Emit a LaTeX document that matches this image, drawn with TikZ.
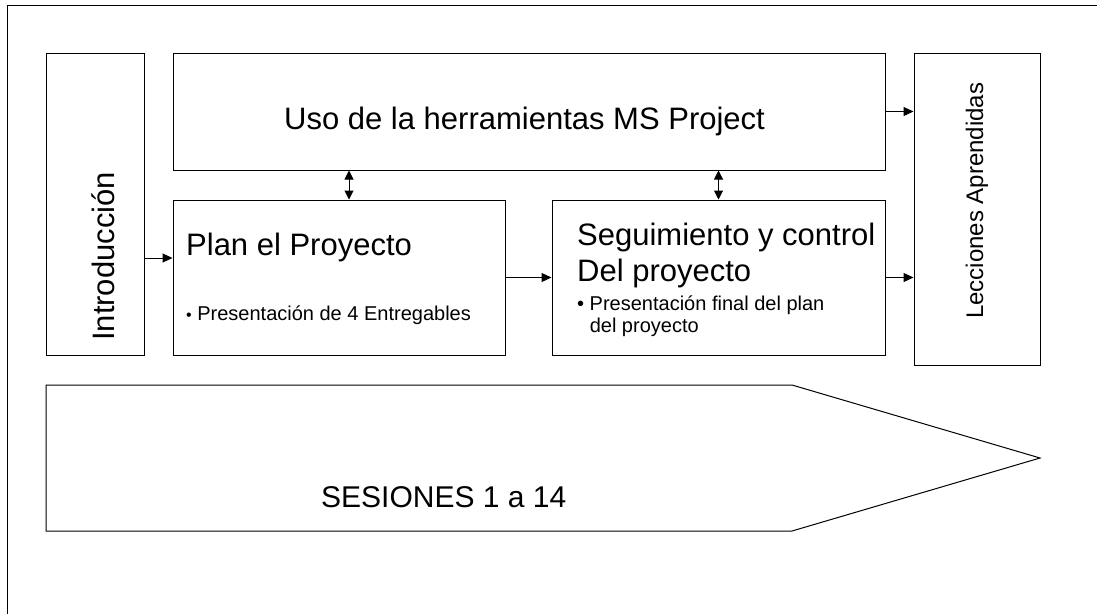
\documentclass[tikz,border=0pt]{standalone}
\usepackage{fontspec}
\setmainfont{Liberation Sans}
\usetikzlibrary{arrows.meta}
\begin{document}
\begin{tikzpicture}[x=1pt,y=-1pt,
    box/.style={draw,rectangle,line width=1pt,inner sep=0pt},
    big/.style={font=\fontsize{31}{36}\selectfont,inner sep=0pt,align=left},
    small/.style={font=\fontsize{20}{22}\selectfont,inner sep=0pt,align=left},
    arr/.style={-{Triangle[length=10pt,width=9pt]},line width=1pt},
    darr/.style={{Triangle[length=9pt,width=9pt]}-{Triangle[length=9pt,width=9pt]},line width=1pt}]
  \useasboundingbox (0,0) rectangle (1097,614);
  \draw[line width=1pt] (7,614) -- (7,5) -- (1097,5);

  % boxes
  \node[box,minimum width=98pt,minimum height=302pt] (intro) at (95,204) {};
  \node[box,minimum width=712pt,minimum height=117pt] (uso) at (529,111.5) {};
  \node[box,minimum width=332pt,minimum height=155pt] (plan) at (339,277.5) {};
  \node[box,minimum width=333pt,minimum height=155pt] (seg) at (718.5,277.5) {};
  \node[box,minimum width=126pt,minimum height=312pt] (lecc) at (977,209) {};
  \draw[line width=1pt] (46,385) -- (792,385) -- (1040,458) -- (792,531) -- (46,531) -- cycle;

  % texts
  \node[big,rotate=90,anchor=base west] (introtxt) at (114,341) {Introducción};
  \node[big,anchor=base west] (usotxt) at (284,129) {Uso de la herramientas MS Project};
  \node[big,anchor=base west] (plantxt) at (186,255) {Plan el Proyecto};
  \node[small,anchor=base west] (plannote) at (186,320)
    {{\fontsize{16}{16}\selectfont•}\ Presentación de 4 Entregables};
  \node[big,anchor=base west] (segtxt) at (577,281) {Seguimiento y control\\Del proyecto};
  \node[small,anchor=base west] (segnote) at (577,332)
    {•\ Presentación final del plan\\\phantom{•\ }del proyecto};
  \node[font=\fontsize{24}{28}\selectfont,inner sep=0pt,rotate=90,anchor=base west]
    (lecctxt) at (983,319) {Lecciones Aprendidas};
  \node[font=\fontsize{30}{36}\selectfont,inner sep=0pt,anchor=base west]
    (sestxt) at (321,507) {SESIONES 1 a 14};

  % connectors
  \draw[arr] ([yshift=-54pt]intro.east) -- ([yshift=-54pt]intro.east -| plan.west);
  \draw[arr] (plan) -- (seg);
  \draw[arr] (uso.east) -- (uso.east -| lecc.west);
  \draw[arr] (seg.east) -- (seg.east -| lecc.west);
  \draw[darr] ([xshift=10pt]plan.north) -- ([xshift=10pt]plan.north |- uso.south);
  \draw[darr] (seg.north) -- (seg.north |- uso.south);
\end{tikzpicture}
\end{document}
